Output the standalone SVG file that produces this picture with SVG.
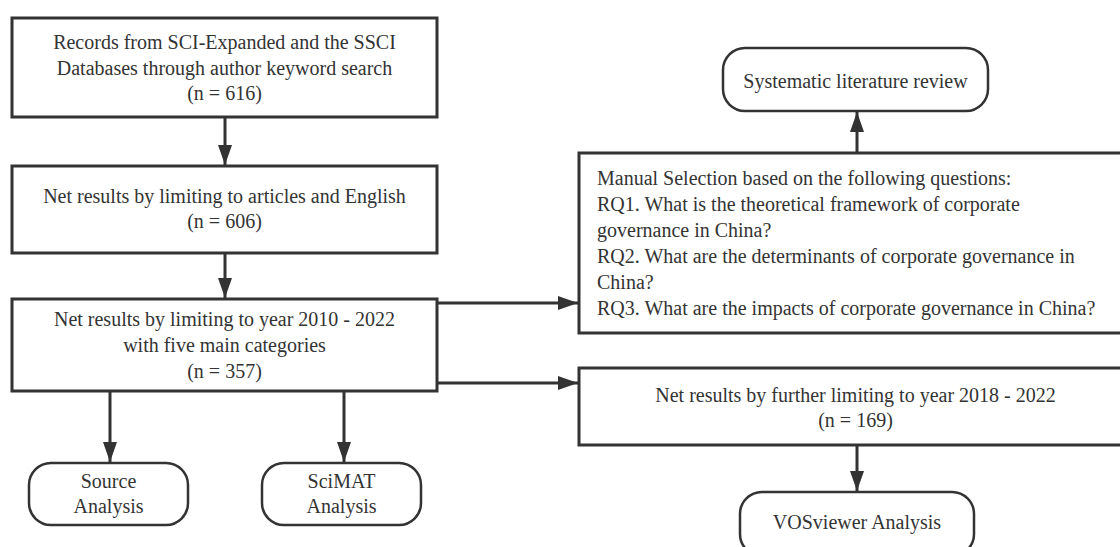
<svg xmlns="http://www.w3.org/2000/svg" width="1120" height="547" viewBox="0 0 1120 547">
<defs>
<style>
.box{fill:#ffffff;stroke:#333333;stroke-width:3}
.rbox{fill:#ffffff;stroke:#333333;stroke-width:2.5}
.t{font-family:"Liberation Serif","Times New Roman",serif;font-size:20px;fill:#333333}
.c{text-anchor:middle}
.edge{stroke:#333333;stroke-width:3;fill:none;marker-end:url(#ah)}
</style>
<marker id="ah" markerUnits="userSpaceOnUse" markerWidth="20" markerHeight="14" refX="20" refY="7" orient="auto">
<path d="M0,0 L20,7 L0,14 z" fill="#333333"/>
</marker>
</defs>
<rect width="1120" height="547" fill="#ffffff"/>
<g id="connectors">
<line class="edge" x1="225" y1="117" x2="225" y2="165"/>
<line class="edge" x1="225" y1="253" x2="225" y2="298"/>
<line class="edge" x1="110" y1="392" x2="110" y2="462"/>
<line class="edge" x1="344" y1="392" x2="344" y2="462"/>
<line class="edge" x1="437" y1="303" x2="578" y2="303"/>
<line class="edge" x1="437" y1="383" x2="578" y2="383"/>
<line class="edge" x1="857" y1="153" x2="857" y2="112"/>
<line class="edge" x1="857" y1="445" x2="857" y2="491"/>
</g>
<g id="records">
<rect class="box" x="12" y="18" width="425" height="99"/>
<text class="t c" x="224.5" y="49">Records from SCI-Expanded and the SSCI</text>
<text class="t c" x="224.5" y="75">Databases through author keyword search</text>
<text class="t c" x="224.5" y="100">(n = 616)</text>
</g>
<g id="articles">
<rect class="box" x="12" y="166" width="425" height="87"/>
<text class="t c" x="224.5" y="203">Net results by limiting to articles and English</text>
<text class="t c" x="224.5" y="228">(n = 606)</text>
</g>
<g id="years">
<rect class="box" x="12" y="299" width="425" height="92"/>
<text class="t c" x="224.5" y="326">Net results by limiting to year 2010 - 2022</text>
<text class="t c" x="224.5" y="352">with five main categories</text>
<text class="t c" x="224.5" y="378">(n = 357)</text>
</g>
<g id="source">
<rect class="rbox" x="29" y="463" width="159" height="62" rx="22" ry="22"/>
<text class="t c" x="108.5" y="488">Source</text>
<text class="t c" x="108.5" y="513">Analysis</text>
</g>
<g id="scimat">
<rect class="rbox" x="262" y="463" width="159" height="62" rx="22" ry="22"/>
<text class="t c" x="341.5" y="488">SciMAT</text>
<text class="t c" x="341.5" y="513">Analysis</text>
</g>
<g id="review">
<rect class="rbox" x="723" y="48" width="265" height="63" rx="22" ry="22"/>
<text class="t c" x="855.5" y="88">Systematic literature review</text>
</g>
<g id="manual">
<rect class="box" x="579" y="153" width="545" height="180"/>
<text class="t" x="597" y="185">Manual Selection based on the following questions:</text>
<text class="t" x="597" y="211">RQ1. What is the theoretical framework of corporate</text>
<text class="t" x="597" y="237">governance in China?</text>
<text class="t" x="597" y="263">RQ2. What are the determinants of corporate governance in</text>
<text class="t" x="597" y="289">China?</text>
<text class="t" x="597" y="315">RQ3. What are the impacts of corporate governance in China?</text>
</g>
<g id="further">
<rect class="box" x="579" y="368" width="545" height="77"/>
<text class="t c" x="855.5" y="402">Net results by further limiting to year 2018 - 2022</text>
<text class="t c" x="855.5" y="427">(n = 169)</text>
</g>
<g id="vosviewer">
<rect class="rbox" x="740" y="492" width="234" height="64" rx="22" ry="22"/>
<text class="t c" x="857" y="529">VOSviewer Analysis</text>
</g>
</svg>
